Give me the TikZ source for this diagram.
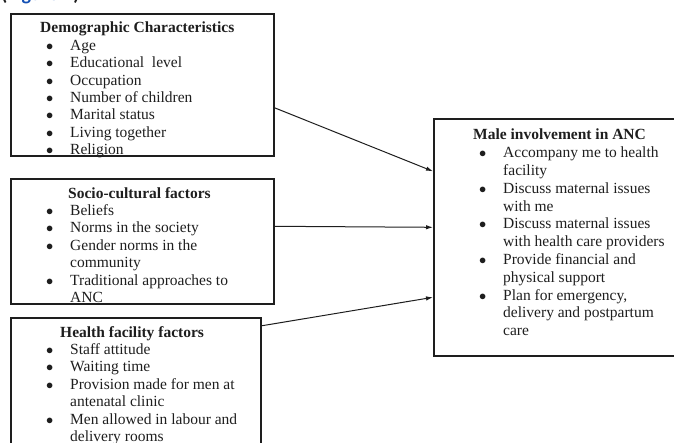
\documentclass[tikz,border=0pt]{standalone}
\usepackage{fontspec}
\setmainfont{Liberation Serif}
\newfontfamily\capfont{Carlito}
\usetikzlibrary{arrows.meta,positioning}
\definecolor{ink}{RGB}{30,30,30}
\definecolor{figblue}{RGB}{20,80,180}
\tikzstyle{contour} = [draw=ink,line width=1.6pt,rectangle,inner sep=0,anchor=north west]
\tikzstyle{listing} = [inner sep=0,anchor=north west,align=left,text=ink,font=\fontsize{15.5}{17.4}\selectfont]
\tikzstyle{link} = [draw=ink,line width=1pt,-{Latex[length=7pt,width=4.5pt]}]
% bullet line and continuation line
\newcommand{\bl}[1]{\makebox[30pt][l]{\hspace{6pt}$\bullet$}#1}
\newcommand{\cl}[1]{\hspace{30pt}#1}

\begin{document}
\begin{tikzpicture}[x=1pt,y=-1pt]
  \useasboundingbox (0,0) rectangle (674,442);
  % caption cut off at the top
  \node[anchor=base west,inner sep=0,font=\capfont\bfseries\fontsize{20}{20}\selectfont,text=ink] (cap) at (1,0.5) {(\textcolor{figblue}{Figure 1})};
  % boxes
  \node[contour,minimum width=263pt,minimum height=142pt] (demo) at (10,13) {};
  \node[contour,minimum width=263pt,minimum height=125pt] (socio) at (10,178) {};
  \node[contour,minimum width=250pt,minimum height=140pt] (health) at (10,317) {};
  \node[contour,minimum width=250pt,minimum height=237pt] (male) at (433,118) {};
  % texts
  \node[listing] (demotext) at ([xshift=30pt,yshift=-9pt]demo.north west) {%
    \textbf{Demographic Characteristics}\\
    \bl{Age}\\ \bl{Educational\ \ level}\\ \bl{Occupation}\\ \bl{Number of children}\\
    \bl{Marital status}\\ \bl{Living together}\\ \bl{Religion}};
  \node[listing] (sociotext) at ([xshift=30pt,yshift=-9pt]socio.north west) {%
    \hspace{28pt}\textbf{Socio-cultural factors}\\
    \bl{Beliefs}\\ \bl{Norms in the society}\\ \bl{Gender norms in the}\\ \cl{community}\\
    \bl{Traditional approaches to}\\ \cl{ANC}};
  \node[listing] (healthtext) at ([xshift=30pt,yshift=-9pt]health.north west) {%
    \hspace{20pt}\textbf{Health facility factors}\\
    \bl{Staff attitude}\\ \bl{Waiting time}\\ \bl{Provision made for men at}\\ \cl{antenatal clinic}\\
    \bl{Men allowed in labour and}\\ \cl{delivery rooms}};
  \node[listing,font=\fontsize{15.5}{17.8}\selectfont] (maletext) at ([xshift=40pt,yshift=-11pt]male.north west) {%
    \textbf{Male involvement in ANC}\\
    \bl{Accompany me to health}\\ \cl{facility}\\
    \bl{Discuss maternal issues}\\ \cl{with me}\\
    \bl{Discuss maternal issues}\\ \cl{with health care providers}\\
    \bl{Provide financial and}\\ \cl{physical support}\\
    \bl{Plan for emergency,}\\ \cl{delivery and postpartum}\\ \cl{care}};
  % arrows
  \draw[link] ([yshift=-23pt]demo.east) -- ([yshift=66pt]male.west);
  \draw[link] ([yshift=15pt]socio.east) -- ([yshift=10pt]male.west);
  \draw[link] ([yshift=62pt]health.east) -- ([yshift=-60pt]male.west);
\end{tikzpicture}
\end{document}
